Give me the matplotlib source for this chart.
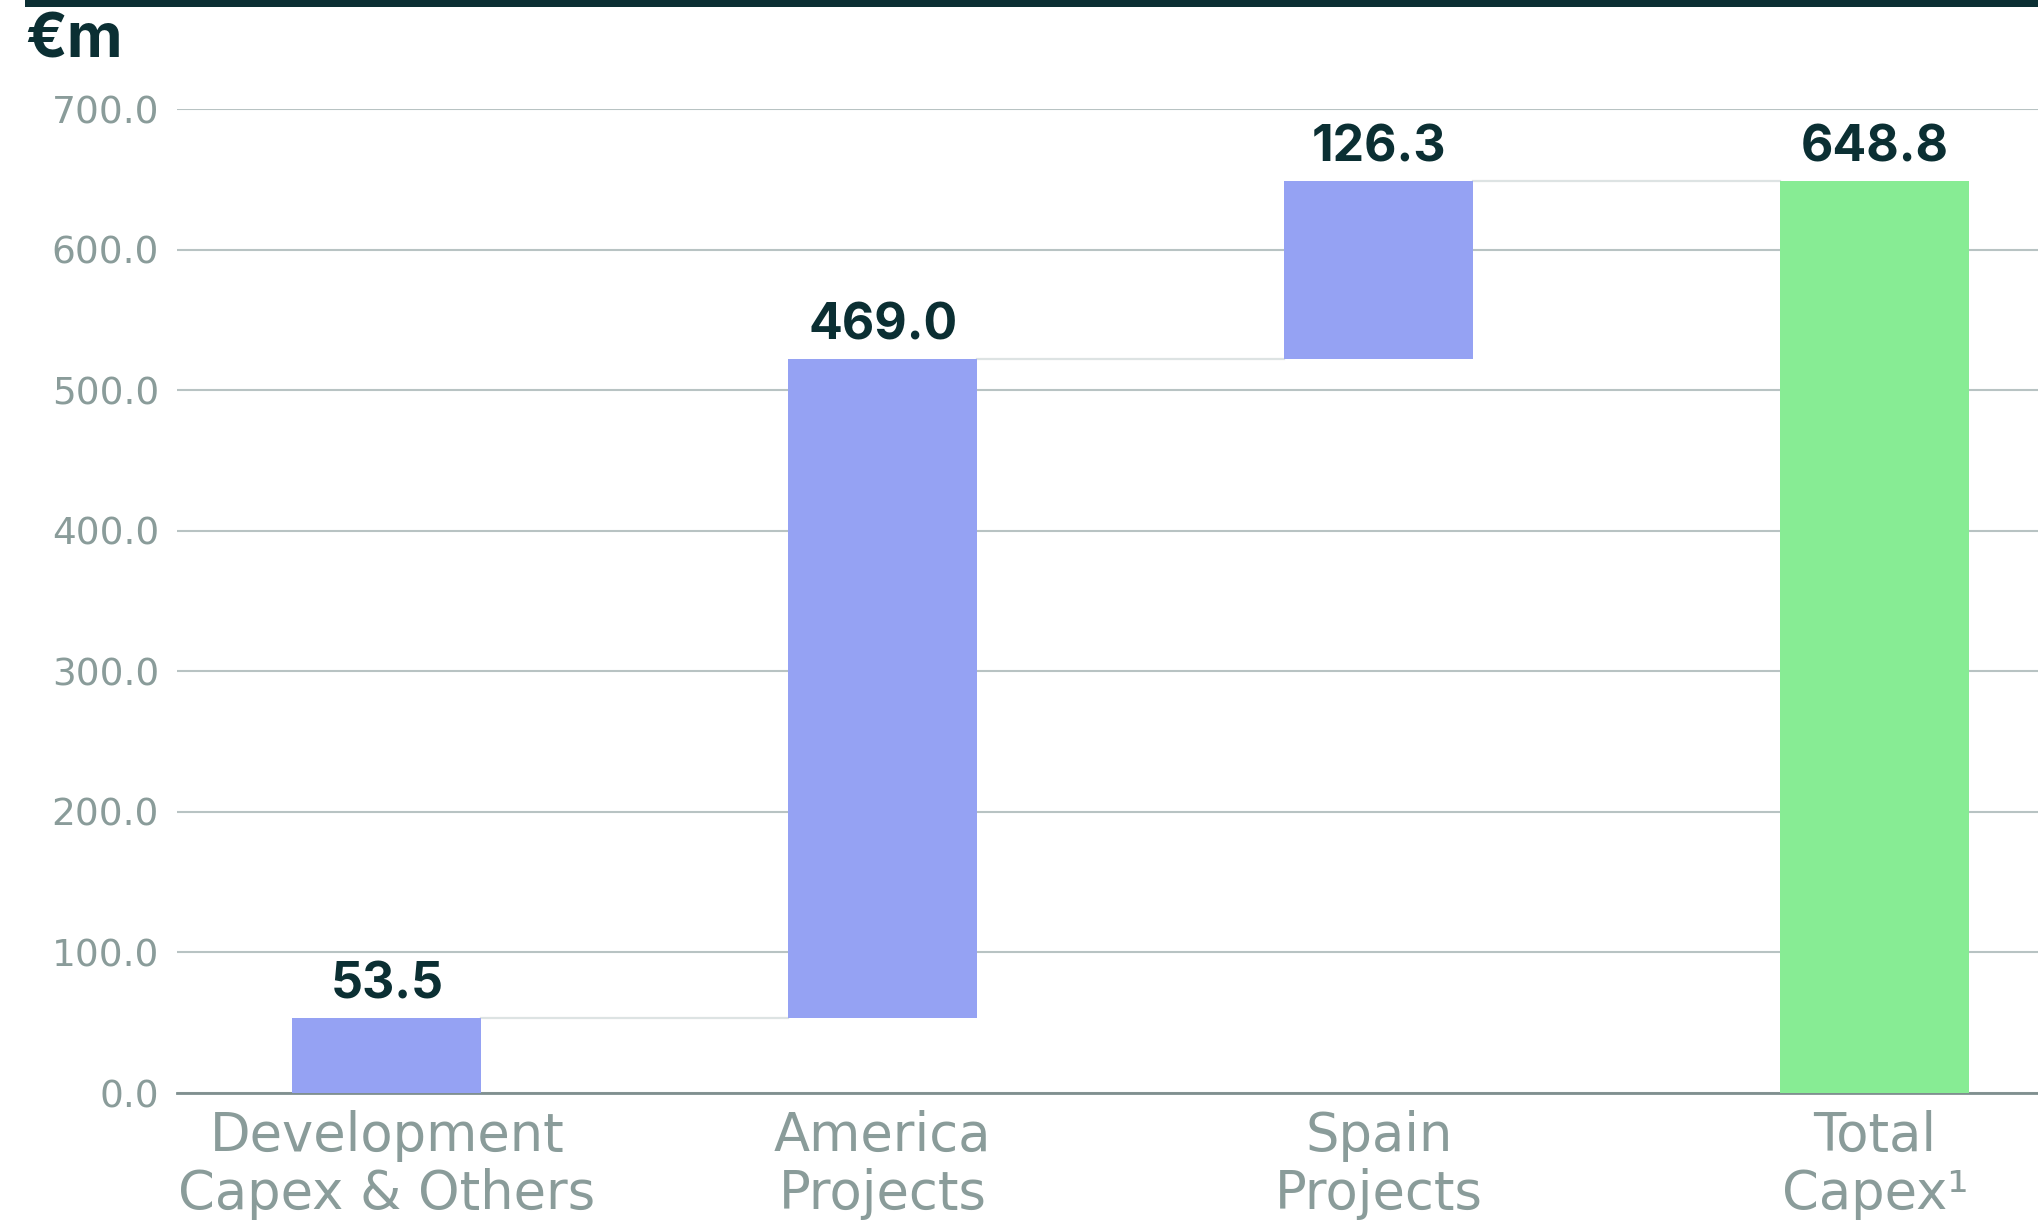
import matplotlib.pyplot as plt
from matplotlib.patches import Rectangle

# data
categories = ['Development\nCapex & Others', 'America\nProjects', 'Spain\nProjects', 'Total\nCapex¹']
values = [53.5, 469.0, 126.3, 648.8]
is_total = [False, False, False, True]
yticks = [0, 100, 200, 300, 400, 500, 600, 700]

dark = '#0b2f33'
grey_txt = '#8a9c9a'
blue = '#95a2f3'
green = '#87ec94'

fig = plt.figure(figsize=(20.38, 12.23), dpi=100)
ax = fig.add_axes([177 / 2038, 1 - 1093 / 1223, 1 - 177 / 2038, (1093 - 109) / 1223])

# waterfall bottoms
bottoms = []
running = 0
for v, tot in zip(values, is_total):
    if tot:
        bottoms.append(0)
    else:
        bottoms.append(running)
        running += v

w = 0.381
x = list(range(len(values)))
colors = [green if t else blue for t in is_total]
ax.bar(x, values, bottom=bottoms, width=w, color=colors, zorder=3)

# connectors
for i in range(len(values) - 1):
    level = bottoms[i] + values[i]
    ax.plot([i + w / 2, i + 1 - w / 2], [level, level], color='#dde3e3', lw=1.6, zorder=2)

# value labels
for i, v in enumerate(values):
    ax.annotate(f'{v:.1f}', (i, bottoms[i] + v), xytext=(0, 14), textcoords='offset points',
                ha='center', va='baseline', fontsize=36, fontweight='bold',
                family=['Inter', 'DejaVu Sans'], color=dark)

ax.set_xlim(-0.423, 3.329)
ax.set_ylim(0, 700)
ax.set_yticks(yticks)
ax.set_yticklabels([f'{t:.1f}' for t in yticks])
ax.set_xticks(x)
ax.set_xticklabels(categories, linespacing=1.15)
ax.tick_params(axis='y', length=0, pad=13, labelsize=27, labelcolor=grey_txt)
ax.tick_params(axis='x', length=0, pad=12, labelsize=38, labelcolor=grey_txt)

ax.grid(axis='y', color='#b8c3c3', lw=1.5, zorder=0)
ax.set_axisbelow(True)
for s in ['top', 'right', 'left']:
    ax.spines[s].set_visible(False)
ax.spines['bottom'].set_color('#7f8f8f')
ax.spines['bottom'].set_linewidth(2)

# top rule and unit label
fig.add_artist(Rectangle((25 / 2038, 1 - 7 / 1223), 1, 7 / 1223, transform=fig.transFigure,
                         color=dark, lw=0))
fig.text(25 / 2038, 1 - 58 / 1223, '€m', fontsize=44, fontweight='bold',
         family=['Inter', 'DejaVu Sans'], color=dark, va='baseline')

plt.savefig('out.png', dpi=100)
